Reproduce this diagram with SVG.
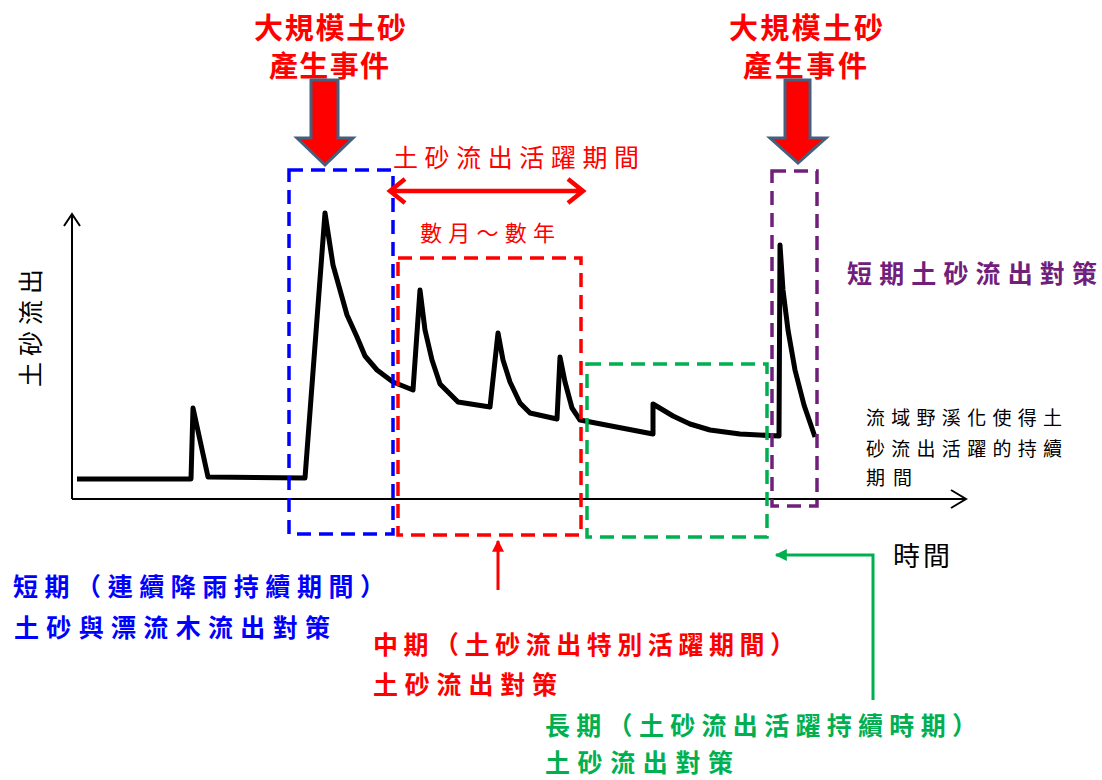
<svg xmlns="http://www.w3.org/2000/svg" width="1102" height="780" viewBox="0 0 1102 780">
<defs>
<style>
text{font-family:"Noto Sans CJK TC","Noto Sans CJK SC",sans-serif;}
.b{font-weight:bold;}
.box{fill:none;stroke-width:3.5;stroke-dasharray:14 8;}
.axis{fill:none;stroke:#000;stroke-width:2;}
.curve{fill:none;stroke:#000;stroke-width:5;stroke-linejoin:round;stroke-linecap:butt;}
.big{fill:#FF0000;stroke:#44607F;stroke-width:3;stroke-linejoin:miter;}
</style>
<marker id="tri-red" viewBox="0 0 10 10" refX="9" refY="5" markerWidth="4" markerHeight="4" orient="auto"><path d="M0,0 L10,5 L0,10 z" fill="#FF0000"/></marker>
<marker id="tri-green" viewBox="0 0 10 10" refX="9" refY="5" markerWidth="5" markerHeight="4" orient="auto"><path d="M0,0 L10,5 L0,10 z" fill="#00B050"/></marker>
</defs>
<rect width="1102" height="780" fill="#fff"/>

<g id="axes">
<path class="axis" d="M72,499 L72,214 M64,226 L72,214 L80,226"/>
<path class="axis" d="M72,499 L966,499 M951,490 L966,499 L951,508"/>
<text x="40" y="328" font-size="25" fill="#000" text-anchor="middle" transform="rotate(-90 40 328)" textLength="118" lengthAdjust="spacing">土砂流出</text>
<text x="893" y="566" font-size="27" fill="#000" textLength="57" lengthAdjust="spacing">時間</text>
</g>

<g id="curve">
<path class="curve" d="M77,479 L191,479 L193,408 L208,477 L305,478 L325,213 L333,265 L340,290 L347,315 L357,337 L365,356 L377,370 L393,382 L413,390 L420,290 L425,330 L432,360 L440,384 L458,402 L490,407 L498,333 L503,360 L510,382 L520,403 L530,413 L557,419 L560,357 L565,382 L572,408 L580,420 L653,434 L653,404 L673,416 L690,424 L710,430 L740,434 L779,436 L780,245 L783,290 L788,330 L795,370 L804,405 L815,437"/>
</g>

<g id="box-short" >
<rect class="box" x="289" y="170" width="104" height="364" stroke="#0000FF"/>
</g>
<g id="box-mid">
<rect class="box" x="398" y="258" width="183" height="277" stroke="#FF0000"/>
</g>
<g id="box-long">
<rect class="box" x="587" y="364" width="180" height="173" stroke="#00B050"/>
</g>
<g id="box-purple">
<rect class="box" x="772" y="171" width="45" height="335" stroke="#70207A"/>
</g>

<g id="event-left">
<text class="b" x="330" y="39" font-size="29" fill="#FF0000" text-anchor="middle" textLength="152" lengthAdjust="spacing">大規模土砂</text>
<text class="b" x="329" y="77" font-size="29" fill="#FF0000" text-anchor="middle" textLength="120" lengthAdjust="spacing">產生事件</text>
<path class="big" d="M311,80 L338,80 L338,138 L353,138 L325,165 L297,138 L311,138 Z"/>
</g>
<g id="event-right">
<text class="b" x="806" y="39" font-size="29" fill="#FF0000" text-anchor="middle" textLength="154" lengthAdjust="spacing">大規模土砂</text>
<text class="b" x="805" y="77" font-size="29" fill="#FF0000" text-anchor="middle" textLength="124" lengthAdjust="spacing">產生事件</text>
<path class="big" d="M785,80 L810,80 L810,138 L826,138 L798,163 L770,138 L785,138 Z"/>
</g>

<g id="active-period">
<text x="393" y="167" font-size="25" fill="#FF0000" textLength="246" lengthAdjust="spacing">土砂流出活躍期間</text>
<path d="M391,191 L582,191 M405,179 L390,191 L405,203 M568,179 L583,191 L568,203" fill="none" stroke="#FF0000" stroke-width="4.5" stroke-linejoin="miter"/>
<text x="420" y="241" font-size="22" fill="#FF0000" textLength="135" lengthAdjust="spacing">數月～數年</text>
</g>

<g id="label-purple">
<text class="b" x="847" y="283" font-size="25" fill="#70207A" textLength="250" lengthAdjust="spacing">短期土砂流出對策</text>
</g>

<g id="label-note">
<text x="866" y="425" font-size="19" fill="#000" textLength="196" lengthAdjust="spacing">流域野溪化使得土</text>
<text x="866" y="456" font-size="19" fill="#000" textLength="196" lengthAdjust="spacing">砂流出活躍的持續</text>
<text x="866" y="485" font-size="19" fill="#000" textLength="46" lengthAdjust="spacing">期間</text>
</g>

<g id="label-blue">
<text class="b" x="13" y="596" font-size="25" fill="#0000FF" textLength="372" lengthAdjust="spacing">短期（連續降雨持續期間）</text>
<text class="b" x="14" y="637" font-size="25" fill="#0000FF" textLength="316" lengthAdjust="spacing">土砂與漂流木流出對策</text>
</g>

<g id="label-red">
<text class="b" x="373" y="654" font-size="25" fill="#FF0000" textLength="422" lengthAdjust="spacing">中期（土砂流出特別活躍期間）</text>
<text class="b" x="373" y="694" font-size="25" fill="#FF0000" textLength="184" lengthAdjust="spacing">土砂流出對策</text>
</g>

<g id="label-green">
<text class="b" x="545" y="735" font-size="25" fill="#00B050" textLength="432" lengthAdjust="spacing">長期（土砂流出活躍持續時期）</text>
<text class="b" x="545" y="772" font-size="25" fill="#00B050" textLength="188" lengthAdjust="spacing">土砂流出對策</text>
</g>

<g id="connectors">
<path d="M498,590 L498,541" fill="none" stroke="#FF0000" stroke-width="3" marker-end="url(#tri-red)"/>
<path d="M873,700 L873,555 L776,555" fill="none" stroke="#00B050" stroke-width="3" marker-end="url(#tri-green)"/>
</g>
</svg>
